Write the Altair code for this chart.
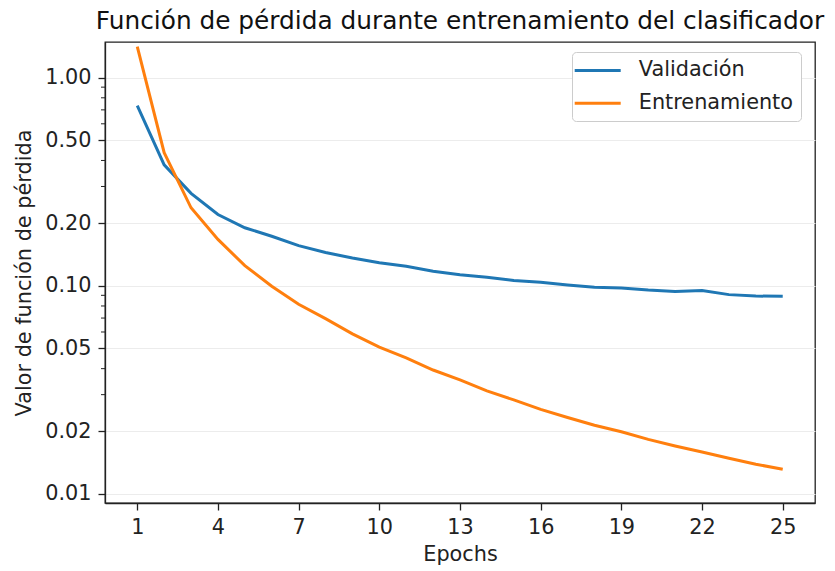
import altair as alt
import pandas as pd

epochs = list(range(1, 26))
val_loss = [0.733, 0.381, 0.278, 0.220, 0.190, 0.173, 0.156, 0.1445, 0.136, 0.129,
            0.124, 0.1175, 0.113, 0.110, 0.106, 0.104, 0.101, 0.0984, 0.0976, 0.0954,
            0.094, 0.095, 0.0907, 0.0893, 0.089]
train_loss = [1.41, 0.436, 0.237, 0.167, 0.125, 0.0995, 0.0815, 0.0695, 0.0588, 0.0507,
              0.0451, 0.0394, 0.0353, 0.0313, 0.0283, 0.0255, 0.0233, 0.0214, 0.0199, 0.0183,
              0.0170, 0.0159, 0.01485, 0.0139, 0.01315]
series_names = ["Validación", "Entrenamiento"]
series_colors = ["#1f77b4", "#ff7f0e"]
x_ticks = [1, 4, 7, 10, 13, 16, 19, 22, 25]
y_ticks = [0.01, 0.02, 0.05, 0.10, 0.20, 0.50, 1.00]
y_minor = [0.03, 0.04, 0.06, 0.07, 0.08, 0.09, 0.3, 0.4, 0.6, 0.7, 0.8, 0.9]

rows = []
for e, v in zip(epochs, val_loss):
    rows.append({"epoch": e, "loss": v, "serie": series_names[0]})
for e, v in zip(epochs, train_loss):
    rows.append({"epoch": e, "loss": v, "serie": series_names[1]})
df = pd.DataFrame(rows)
minor_df = pd.DataFrame({"loss": y_minor})

FONT = "DejaVu Sans"
xscale = alt.Scale(domain=[-0.2, 26.2], nice=False, zero=False)
yscale = alt.Scale(type="log", domain=[0.00905, 1.483], nice=False)
yaxis = alt.Axis(values=y_ticks, format=".2f", title="Valor de función de pérdida", grid=True)

lines = alt.Chart(df).mark_line(strokeWidth=3).encode(
    x=alt.X("epoch:Q", scale=xscale,
            axis=alt.Axis(values=x_ticks, title="Epochs", grid=False, format="d")),
    y=alt.Y("loss:Q", scale=yscale, axis=yaxis),
    color=alt.Color("serie:N", scale=alt.Scale(domain=series_names, range=series_colors),
                    sort=series_names, title=None,
                    legend=alt.Legend(orient="none", legendX=467, legendY=10,
                                      symbolType="M-3.14,0H6.06", symbolSize=100,
                                      symbolStrokeWidth=3, labelOffset=38,
                                      padding=8, rowPadding=10.8,
                                      labelFontSize=20.8, labelFont=FONT, labelColor="#222",
                                      strokeColor="#cccccc", fillColor="#ffffff",
                                      cornerRadius=4)),
    order=alt.Order("epoch:Q"),
)

minor = alt.Chart(minor_df).mark_rule(color="#222", strokeWidth=1).encode(
    y=alt.Y("loss:Q", scale=yscale, axis=yaxis),
    x=alt.value(0),
    x2=alt.value(-4),
)

chart = alt.layer(lines, minor).properties(
    width=710, height=461,
    autosize=alt.AutoSizeParams(type="none"),
    padding={"left": 97, "top": 34, "right": 12, "bottom": 66},
    title=alt.Title("Función de pérdida durante entrenamiento del clasificador",
                    fontSize=24.8, font=FONT, fontWeight="normal", color="#111", offset=7),
).configure_view(
    stroke="#222", strokeWidth=1.3
).configure_axis(
    labelFont=FONT, titleFont=FONT, labelFontSize=20.8, titleFontSize=20.8,
    titleFontWeight="normal", labelColor="#222", titleColor="#222",
    domainColor="#222", domainWidth=1.3, tickColor="#222", tickWidth=1.3, tickSize=7,
    labelPadding=7, gridColor="#ececec", gridWidth=1.2,
).configure_axisX(titlePadding=8).configure_axisY(titlePadding=10)

chart.save("out.html", embed_options={"renderer": "svg", "actions": False})
